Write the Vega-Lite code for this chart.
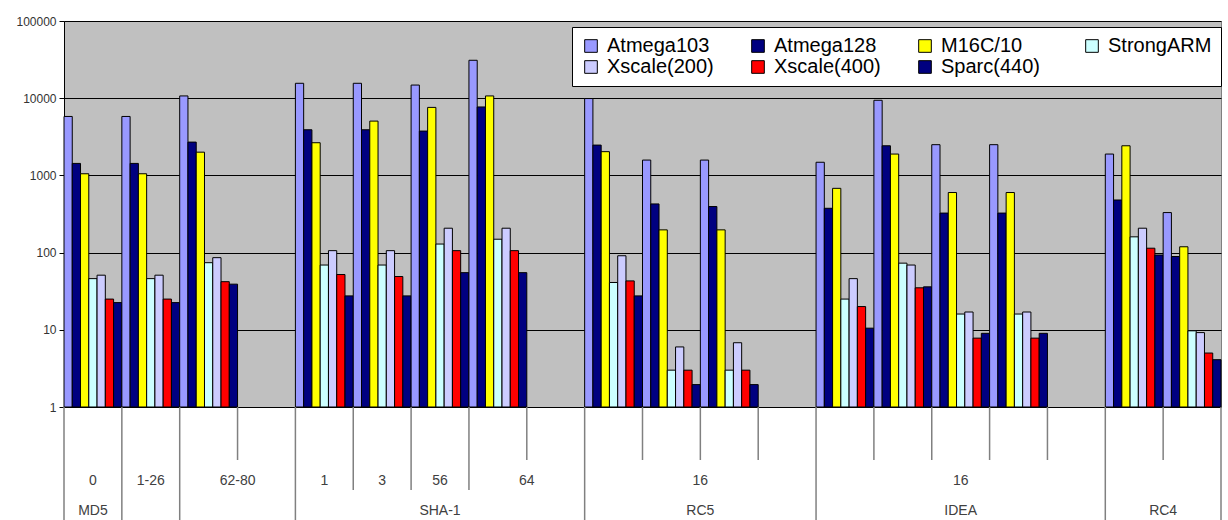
{
  "$schema": "https://vega.github.io/schema/vega-lite/v6.json",
  "background": "white",
  "padding": {"left": 15, "top": 14, "right": 6, "bottom": 0},
  "spacing": 0,
  "bounds": "flush",
  "datasets": {
    "bars": [
      {"slot": 1, "cpu": "Atmega103", "t": 5800}, {"slot": 1, "cpu": "Atmega128", "t": 1430}, {"slot": 1, "cpu": "M16C/10", "t": 1050}, {"slot": 1, "cpu": "StrongARM", "t": 46}, {"slot": 1, "cpu": "Xscale(200)", "t": 51}, {"slot": 1, "cpu": "Xscale(400)", "t": 25}, {"slot": 1, "cpu": "Sparc(440)", "t": 22.5},
      {"slot": 2, "cpu": "Atmega103", "t": 5800}, {"slot": 2, "cpu": "Atmega128", "t": 1430}, {"slot": 2, "cpu": "M16C/10", "t": 1050}, {"slot": 2, "cpu": "StrongARM", "t": 46}, {"slot": 2, "cpu": "Xscale(200)", "t": 51}, {"slot": 2, "cpu": "Xscale(400)", "t": 25}, {"slot": 2, "cpu": "Sparc(440)", "t": 22.5},
      {"slot": 3, "cpu": "Atmega103", "t": 10700}, {"slot": 3, "cpu": "Atmega128", "t": 2700}, {"slot": 3, "cpu": "M16C/10", "t": 2000}, {"slot": 3, "cpu": "StrongARM", "t": 74}, {"slot": 3, "cpu": "Xscale(200)", "t": 86}, {"slot": 3, "cpu": "Xscale(400)", "t": 42}, {"slot": 3, "cpu": "Sparc(440)", "t": 39},
      {"slot": 5, "cpu": "Atmega103", "t": 15600}, {"slot": 5, "cpu": "Atmega128", "t": 3900}, {"slot": 5, "cpu": "M16C/10", "t": 2650}, {"slot": 5, "cpu": "StrongARM", "t": 69}, {"slot": 5, "cpu": "Xscale(200)", "t": 106}, {"slot": 5, "cpu": "Xscale(400)", "t": 52}, {"slot": 5, "cpu": "Sparc(440)", "t": 27.5},
      {"slot": 6, "cpu": "Atmega103", "t": 15600}, {"slot": 6, "cpu": "Atmega128", "t": 3900}, {"slot": 6, "cpu": "M16C/10", "t": 5050}, {"slot": 6, "cpu": "StrongARM", "t": 69}, {"slot": 6, "cpu": "Xscale(200)", "t": 106}, {"slot": 6, "cpu": "Xscale(400)", "t": 49}, {"slot": 6, "cpu": "Sparc(440)", "t": 27.5},
      {"slot": 7, "cpu": "Atmega103", "t": 14800}, {"slot": 7, "cpu": "Atmega128", "t": 3750}, {"slot": 7, "cpu": "M16C/10", "t": 7600}, {"slot": 7, "cpu": "StrongARM", "t": 129}, {"slot": 7, "cpu": "Xscale(200)", "t": 207}, {"slot": 7, "cpu": "Xscale(400)", "t": 106}, {"slot": 7, "cpu": "Sparc(440)", "t": 55},
      {"slot": 8, "cpu": "Atmega103", "t": 31000}, {"slot": 8, "cpu": "Atmega128", "t": 7700}, {"slot": 8, "cpu": "M16C/10", "t": 10700}, {"slot": 8, "cpu": "StrongARM", "t": 149}, {"slot": 8, "cpu": "Xscale(200)", "t": 207}, {"slot": 8, "cpu": "Xscale(400)", "t": 106}, {"slot": 8, "cpu": "Sparc(440)", "t": 55},
      {"slot": 10, "cpu": "Atmega103", "t": 9900}, {"slot": 10, "cpu": "Atmega128", "t": 2470}, {"slot": 10, "cpu": "M16C/10", "t": 2030}, {"slot": 10, "cpu": "StrongARM", "t": 41}, {"slot": 10, "cpu": "Xscale(200)", "t": 91}, {"slot": 10, "cpu": "Xscale(400)", "t": 43}, {"slot": 10, "cpu": "Sparc(440)", "t": 27.5},
      {"slot": 11, "cpu": "Atmega103", "t": 1580}, {"slot": 11, "cpu": "Atmega128", "t": 427}, {"slot": 11, "cpu": "M16C/10", "t": 197}, {"slot": 11, "cpu": "StrongARM", "t": 3}, {"slot": 11, "cpu": "Xscale(200)", "t": 6}, {"slot": 11, "cpu": "Xscale(400)", "t": 3}, {"slot": 11, "cpu": "Sparc(440)", "t": 1.95},
      {"slot": 12, "cpu": "Atmega103", "t": 1580}, {"slot": 12, "cpu": "Atmega128", "t": 395}, {"slot": 12, "cpu": "M16C/10", "t": 197}, {"slot": 12, "cpu": "StrongARM", "t": 3}, {"slot": 12, "cpu": "Xscale(200)", "t": 6.8}, {"slot": 12, "cpu": "Xscale(400)", "t": 3}, {"slot": 12, "cpu": "Sparc(440)", "t": 1.95},
      {"slot": 14, "cpu": "Atmega103", "t": 1480}, {"slot": 14, "cpu": "Atmega128", "t": 375}, {"slot": 14, "cpu": "M16C/10", "t": 680}, {"slot": 14, "cpu": "StrongARM", "t": 25}, {"slot": 14, "cpu": "Xscale(200)", "t": 46}, {"slot": 14, "cpu": "Xscale(400)", "t": 20}, {"slot": 14, "cpu": "Sparc(440)", "t": 10.5},
      {"slot": 15, "cpu": "Atmega103", "t": 9400}, {"slot": 15, "cpu": "Atmega128", "t": 2420}, {"slot": 15, "cpu": "M16C/10", "t": 1890}, {"slot": 15, "cpu": "StrongARM", "t": 73}, {"slot": 15, "cpu": "Xscale(200)", "t": 69}, {"slot": 15, "cpu": "Xscale(400)", "t": 35}, {"slot": 15, "cpu": "Sparc(440)", "t": 36},
      {"slot": 16, "cpu": "Atmega103", "t": 2500}, {"slot": 16, "cpu": "Atmega128", "t": 325}, {"slot": 16, "cpu": "M16C/10", "t": 600}, {"slot": 16, "cpu": "StrongARM", "t": 16}, {"slot": 16, "cpu": "Xscale(200)", "t": 17}, {"slot": 16, "cpu": "Xscale(400)", "t": 7.8}, {"slot": 16, "cpu": "Sparc(440)", "t": 9},
      {"slot": 17, "cpu": "Atmega103", "t": 2500}, {"slot": 17, "cpu": "Atmega128", "t": 325}, {"slot": 17, "cpu": "M16C/10", "t": 600}, {"slot": 17, "cpu": "StrongARM", "t": 16}, {"slot": 17, "cpu": "Xscale(200)", "t": 17}, {"slot": 17, "cpu": "Xscale(400)", "t": 7.8}, {"slot": 17, "cpu": "Sparc(440)", "t": 9},
      {"slot": 19, "cpu": "Atmega103", "t": 1890}, {"slot": 19, "cpu": "Atmega128", "t": 480}, {"slot": 19, "cpu": "M16C/10", "t": 2420}, {"slot": 19, "cpu": "StrongARM", "t": 160}, {"slot": 19, "cpu": "Xscale(200)", "t": 207}, {"slot": 19, "cpu": "Xscale(400)", "t": 114}, {"slot": 19, "cpu": "Sparc(440)", "t": 93},
      {"slot": 20, "cpu": "Atmega103", "t": 330}, {"slot": 20, "cpu": "Atmega128", "t": 89}, {"slot": 20, "cpu": "M16C/10", "t": 119}, {"slot": 20, "cpu": "StrongARM", "t": 9.7}, {"slot": 20, "cpu": "Xscale(200)", "t": 9.2}, {"slot": 20, "cpu": "Xscale(400)", "t": 5}, {"slot": 20, "cpu": "Sparc(440)", "t": 4.1}
    ],
    "seps": [
      {"b": 0, "d": 3}, {"b": 1, "d": 3}, {"b": 2, "d": 3}, {"b": 3, "d": 1}, {"b": 4, "d": 3},
      {"b": 5, "d": 2}, {"b": 6, "d": 2}, {"b": 7, "d": 2}, {"b": 8, "d": 1}, {"b": 9, "d": 3},
      {"b": 10, "d": 1}, {"b": 11, "d": 1}, {"b": 12, "d": 1}, {"b": 13, "d": 3}, {"b": 14, "d": 1},
      {"b": 15, "d": 1}, {"b": 16, "d": 1}, {"b": 17, "d": 1}, {"b": 18, "d": 3}, {"b": 19, "d": 1},
      {"b": 20, "d": 3}
    ],
    "labels": [
      {"pos": 0.5, "row": 2, "label": "0"}, {"pos": 1.5, "row": 2, "label": "1-26"}, {"pos": 3, "row": 2, "label": "62-80"},
      {"pos": 4.5, "row": 2, "label": "1"}, {"pos": 5.5, "row": 2, "label": "3"}, {"pos": 6.5, "row": 2, "label": "56"},
      {"pos": 8, "row": 2, "label": "64"}, {"pos": 11, "row": 2, "label": "16"}, {"pos": 15.5, "row": 2, "label": "16"},
      {"pos": 0.5, "row": 3, "label": "MD5"}, {"pos": 6.5, "row": 3, "label": "SHA-1"}, {"pos": 11, "row": 3, "label": "RC5"},
      {"pos": 15.5, "row": 3, "label": "IDEA"}, {"pos": 19, "row": 3, "label": "RC4"}
    ]
  },
  "vconcat": [
    {
      "width": 1157,
      "height": 386,
      "view": {"fill": "#C0C0C0", "stroke": "#808080"},
      "data": {"name": "bars"},
      "mark": {"type": "bar", "stroke": "#000000", "strokeWidth": 1},
      "encoding": {
        "x": {"field": "slot", "type": "ordinal", "scale": {"domain": [1,2,3,4,5,6,7,8,9,10,11,12,13,14,15,16,17,18,19,20], "paddingInner": 0, "paddingOuter": 0}, "axis": null},
        "xOffset": {"field": "cpu", "type": "nominal", "scale": {"domain": ["Atmega103","Atmega128","M16C/10","StrongARM","Xscale(200)","Xscale(400)","Sparc(440)"], "paddingInner": 0, "paddingOuter": 0}},
        "y": {"field": "t", "type": "quantitative", "scale": {"type": "log", "domain": [1, 100000], "nice": false},
              "axis": {"title": null, "values": [1,10,100,1000,10000,100000], "format": "d", "grid": true, "gridColor": "#000000", "gridOpacity": 1, "gridWidth": 1,
                       "domainColor": "#000000", "tickColor": "#000000", "tickSize": 5, "labelPadding": 3, "labelFont": "Liberation Sans", "labelFontSize": 12, "labelColor": "#333333"}},
        "y2": {"datum": 1},
        "color": {"field": "cpu", "type": "nominal",
                  "scale": {"domain": ["Atmega103","Atmega128","M16C/10","StrongARM","Xscale(200)","Xscale(400)","Sparc(440)"],
                            "range": ["#9999FF","#000080","#FFFF00","#CCFFFF","#CCCCFF","#FF0000","#000080"]},
                  "legend": {"orient": "none", "legendX": 508, "legendY": 6, "direction": "horizontal", "columns": 4, "title": null,
                             "symbolType": "square", "symbolSize": 160, "symbolStrokeColor": "#000000", "symbolStrokeWidth": 1,
                             "labelFont": "Liberation Sans", "labelFontSize": 20, "labelColor": "#000000", "labelLimit": 200, "labelOffset": 6,
                             "fillColor": "#FFFFFF", "strokeColor": "#000000", "padding": 9, "columnPadding": 34, "rowPadding": 1, "gridAlign": "all"}}
      }
    },
    {
      "width": 1157,
      "height": 113,
      "view": {"stroke": null},
      "layer": [
        {
          "data": {"name": "seps"},
          "mark": {"type": "rule", "color": "#808080", "strokeWidth": 1.5},
          "encoding": {
            "x": {"field": "b", "type": "quantitative", "scale": {"domain": [0, 20], "nice": false, "zero": false}, "axis": null},
            "y": {"field": "d", "type": "quantitative", "scale": {"domain": [0, 1, 2, 3], "range": [0, 53, 83, 113]}, "axis": null},
            "y2": {"datum": 0}
          }
        },
        {
          "data": {"name": "labels"},
          "mark": {"type": "text", "baseline": "alphabetic", "dy": -5, "font": "Liberation Sans", "fontSize": 14, "color": "#404040"},
          "encoding": {
            "x": {"field": "pos", "type": "quantitative"},
            "y": {"field": "row", "type": "quantitative"},
            "text": {"field": "label"}
          }
        }
      ]
    }
  ]
}
